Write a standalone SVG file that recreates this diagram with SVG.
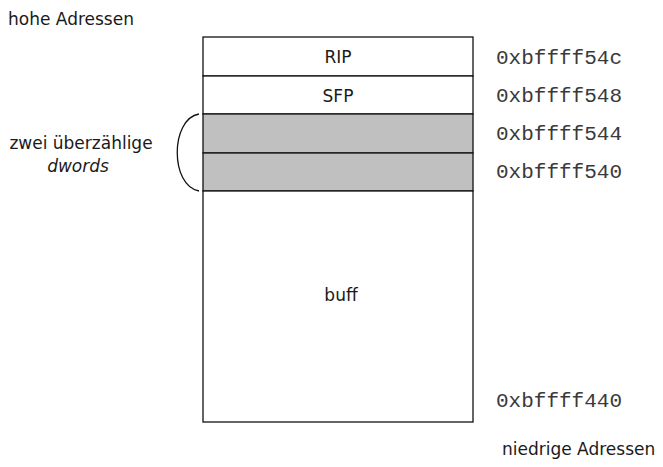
<svg xmlns="http://www.w3.org/2000/svg" width="663" height="467" viewBox="0 0 663 467">
  <style>
    .lbl { font-family: "DejaVu Sans", Verdana, sans-serif; font-size: 17px; fill: #1a1a1a; }
    .addr { font-family: "Liberation Mono", "Courier New", monospace; font-size: 21px; fill: #3a3a3a; }
    .cell { stroke: #111; stroke-width: 1.3; }
    .free { fill: #ffffff; }
    .pad { fill: #c0c0c0; }
  </style>

  <rect width="663" height="467" fill="#ffffff"/>

  <text class="lbl" x="8" y="25">hohe Adressen</text>
  <text class="lbl" x="502" y="455">niedrige Adressen</text>

  <!-- stack frame, from high to low addresses -->
  <g id="rip">
    <rect class="cell free" x="203" y="37" width="270" height="39"/>
    <text class="lbl" x="338" y="63" text-anchor="middle">RIP</text>
  </g>
  <g id="sfp">
    <rect class="cell free" x="203" y="76" width="270" height="38"/>
    <text class="lbl" x="338" y="102" text-anchor="middle">SFP</text>
  </g>
  <g id="pad1">
    <rect class="cell pad" x="203" y="114" width="270" height="39"/>
  </g>
  <g id="pad2">
    <rect class="cell pad" x="203" y="153" width="270" height="38"/>
  </g>
  <g id="buff">
    <rect class="cell free" x="203" y="191" width="270" height="231"/>
    <text class="lbl" x="341" y="301" text-anchor="middle">buff</text>
  </g>

  <!-- addresses -->
  <g id="addresses">
    <text class="addr" x="496" y="64">0xbffff54c</text>
    <text class="addr" x="496" y="102">0xbffff548</text>
    <text class="addr" x="496" y="140">0xbffff544</text>
    <text class="addr" x="496" y="178">0xbffff540</text>
    <text class="addr" x="496" y="407">0xbffff440</text>
  </g>

  <!-- brace around the padding dwords -->
  <g id="connectors">
    <path d="M199 114 C170 119, 170 186, 199 191" fill="none" stroke="#111" stroke-width="1.3"/>
  </g>
  <g id="pad-note">
    <text class="lbl" x="81" y="149" text-anchor="middle">zwei überzählige</text>
    <text class="lbl" x="78" y="172" text-anchor="middle" font-style="italic">dwords</text>
  </g>
</svg>
